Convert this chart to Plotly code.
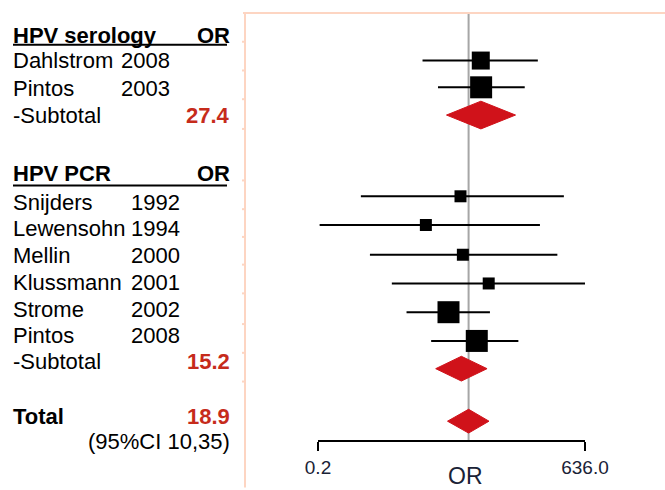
import math
import plotly.graph_objects as go

# ---------------- data ----------------
sero_studies = ["Dahlstrom", "Pintos"]
sero_years = ["2008", "2003"]
sero_or = [27.3, 27.6]
sero_lo = [4.7, 7.5]
sero_hi = [153.0, 103.0]
sero_subtotal = [27.4, 9.7, 78.0]          # OR, lower, upper

pcr_studies = ["Snijders", "Lewensohn", "Mellin", "Klussmann", "Strome", "Pintos"]
pcr_years = ["1992", "1994", "2000", "2001", "2002", "2008"]
pcr_or = [14.8, 5.2, 15.9, 34.7, 10.3, 24.2]
pcr_lo = [0.73, 0.21, 0.96, 1.86, 2.9, 6.1]
pcr_hi = [336.0, 163.0, 276.0, 636.0, 36.0, 85.0]
pcr_subtotal = [15.2, 7.0, 33.0]

total = [18.9, 10.0, 35.0]
total_ci_text = "(95%CI 10,35)"

axis_tickvals = [0.2, 636.0]
axis_ticktext = ["0.2", "636.0"]

# ---------------- layout / style ----------------
W, H = 665, 490
PL, PR, PT, PB = 318, 585, 14, 444   # plot area in pixels
FONT = "Liberation Sans, Arial, sans-serif"
RED_TXT = "#c62b1b"
RED_DIA = "#d0121a"

sero_marker_y = [61, 88]
sero_sub_y = 116
pcr_marker_y = [198, 227, 257, 286, 315, 344]
pcr_sub_y = 372
total_y = 425
sero_sizes = [18, 22]
pcr_sizes = [12, 12, 12, 12, 22, 22]


def px(x):
    return (x - PL) / (PR - PL)


def py(y):
    return (PB - y) / (PB - PT)


fig = go.Figure()


def add_study(ors, los, his, ys, sizes):
    xs, yy = [], []
    for lo, hi, y in zip(los, his, ys):
        xs += [lo, hi, None]
        yy += [y, y, None]
    fig.add_trace(go.Scatter(x=xs, y=yy, mode="lines",
                             line=dict(color="black", width=2),
                             cliponaxis=False, hoverinfo="skip", showlegend=False))
    fig.add_trace(go.Scatter(x=ors, y=ys, mode="markers", opacity=1,
                             marker=dict(symbol="square", size=sizes, color="#000000",
                                         opacity=1, line=dict(width=0)),
                             cliponaxis=False, showlegend=False))


def add_diamond(est, y, half):
    o, lo, hi = est
    fig.add_trace(go.Scatter(x=[lo, o, hi, o, lo], y=[y, y - half, y, y + half, y],
                             mode="lines", fill="toself", fillcolor=RED_DIA,
                             line=dict(color=RED_DIA, width=1),
                             cliponaxis=False, showlegend=False))


# reference line at total OR
fig.add_shape(type="line", xref="x", yref="y", x0=total[0], x1=total[0],
              y0=PT, y1=PB, line=dict(color="#a6a6a6", width=2), layer="below")

add_study(sero_or, sero_lo, sero_hi, sero_marker_y, sero_sizes)
add_diamond(sero_subtotal, sero_sub_y, 14)
add_study(pcr_or, pcr_lo, pcr_hi, pcr_marker_y, pcr_sizes)
add_diamond(pcr_subtotal, pcr_sub_y, 12.5)
add_diamond(total, total_y, 12)

# peach frame
PEACH = "#fdd5c2"
fig.add_shape(type="line", xref="paper", yref="paper", x0=px(243), x1=px(665),
              y0=py(13), y1=py(13), line=dict(color=PEACH, width=2))
fig.add_shape(type="line", xref="paper", yref="paper", x0=px(245), x1=px(245),
              y0=py(13), y1=py(492), line=dict(color=PEACH, width=2))
for ty in [42, 71, 100, 130, 182, 211, 239, 267, 296, 327, 356, 385]:
    fig.add_shape(type="line", xref="paper", yref="paper", x0=px(242), x1=px(245),
                  y0=py(ty), y1=py(ty), line=dict(color=PEACH, width=2))

# header underlines
for uy in [45, 187]:
    fig.add_shape(type="line", xref="paper", yref="paper", x0=px(13), x1=px(227),
                  y0=py(uy), y1=py(uy), line=dict(color="black", width=2))

ann = []


def text(x, y, s, anchor="left", bold=False, color="black", size=22):
    ann.append(dict(x=px(x), y=py(y), xref="paper", yref="paper", text=s,
                    showarrow=False, xanchor=anchor, yanchor="middle",
                    borderpad=0, borderwidth=0,
                    font=dict(family=FONT, size=size, color=color,
                              weight="bold" if bold else "normal")))


# serology block
text(13, 36, "HPV serology", bold=True)
text(230, 36, "OR", anchor="right", bold=True)
sero_text_y = [60.5, 89]
for name, yr, y in zip(sero_studies, sero_years, sero_text_y):
    text(13, y, name)
    text(170, y, yr, anchor="right")
text(13, 116, "-Subtotal")
text(230, 116, f"{sero_subtotal[0]:.1f}", anchor="right", bold=True, color=RED_TXT)

# PCR block
text(13, 175.5, "HPV PCR", bold=True)
text(230, 175.5, "OR", anchor="right", bold=True)
pcr_text_y = [204, 231, 258, 285, 312, 339]
for name, yr, y in zip(pcr_studies, pcr_years, pcr_text_y):
    text(13, y, name)
    text(180, y, yr, anchor="right")
text(13, 364.5, "-Subtotal")
text(230, 364.5, f"{pcr_subtotal[0]:.1f}", anchor="right", bold=True, color=RED_TXT)

# total
text(13, 420.5, "Total", bold=True)
text(230, 420.5, f"{total[0]:.1f}", anchor="right", bold=True, color=RED_TXT)
text(230, 445.5, total_ci_text, anchor="right")

# axis title
text(465, 480, "OR", anchor="center", color="#1a2236", size=23)

fig.update_layout(
    width=W, height=H,
    margin=dict(l=PL, r=W - PR, t=PT, b=H - PB, pad=0),
    paper_bgcolor="white", plot_bgcolor="white",
    showlegend=False,
    annotations=ann,
    xaxis=dict(type="log", range=[math.log10(axis_tickvals[0]), math.log10(axis_tickvals[1])],
               showgrid=False, zeroline=False, showline=True, linecolor="black",
               linewidth=2, ticks="outside", ticklen=9, tickwidth=2, tickcolor="black",
               tickvals=axis_tickvals, ticktext=axis_ticktext,
               tickfont=dict(family=FONT, size=19, color="#1a2236")),
    yaxis=dict(range=[PB, PT], visible=False),
)

fig.write_html("out.html", config={"displayModeBar": False},
               post_script="document.body.style.margin='0';document.body.style.overflow='hidden';")
